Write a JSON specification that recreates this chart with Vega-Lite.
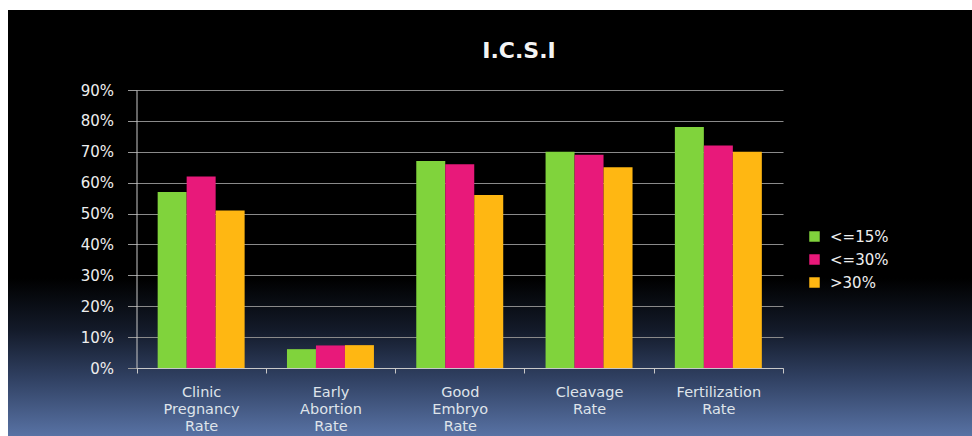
{
  "$schema": "https://vega.github.io/schema/vega-lite/v6.json",
  "width": 964,
  "height": 426,
  "autosize": {"type": "none"},
  "padding": {"left": 8, "top": 10, "right": 0, "bottom": 0},
  "background": "white",
  "title": {
    "text": "I.C.S.I",
    "font": "DejaVu Sans",
    "fontSize": 22,
    "fontWeight": "bold",
    "color": "#f4f4f4",
    "anchor": "middle",
    "baseline": "alphabetic",
    "offset": 0,
    "dx": 29,
    "dy": 70
  },
  "data": {
    "values": [
      {"metric": "Clinic Pregnancy Rate", "group": "<=15%", "value": 0.57},
      {"metric": "Clinic Pregnancy Rate", "group": "<=30%", "value": 0.62},
      {"metric": "Clinic Pregnancy Rate", "group": ">30%", "value": 0.51},
      {"metric": "Early Abortion Rate", "group": "<=15%", "value": 0.061},
      {"metric": "Early Abortion Rate", "group": "<=30%", "value": 0.073},
      {"metric": "Early Abortion Rate", "group": ">30%", "value": 0.074},
      {"metric": "Good Embryo Rate", "group": "<=15%", "value": 0.67},
      {"metric": "Good Embryo Rate", "group": "<=30%", "value": 0.66},
      {"metric": "Good Embryo Rate", "group": ">30%", "value": 0.56},
      {"metric": "Cleavage Rate", "group": "<=15%", "value": 0.70},
      {"metric": "Cleavage Rate", "group": "<=30%", "value": 0.69},
      {"metric": "Cleavage Rate", "group": ">30%", "value": 0.65},
      {"metric": "Fertilization Rate", "group": "<=15%", "value": 0.78},
      {"metric": "Fertilization Rate", "group": "<=30%", "value": 0.72},
      {"metric": "Fertilization Rate", "group": ">30%", "value": 0.70}
    ]
  },
  "mark": {"type": "bar"},
  "encoding": {
    "x": {
      "field": "metric",
      "type": "nominal",
      "sort": ["Clinic Pregnancy Rate", "Early Abortion Rate", "Good Embryo Rate", "Cleavage Rate", "Fertilization Rate"],
      "scale": {"range": [128.5, 775], "paddingInner": 0, "paddingOuter": 0},
      "axis": {
        "title": null,
        "offset": -68,
        "labelAngle": 0,
        "labelExpr": "split(datum.label, ' ')",
        "labelFont": "DejaVu Sans",
        "labelFontSize": 14.5,
        "labelColor": "#dfe4ea",
        "labelLineHeight": 17,
        "labelPadding": 12,
        "labelBaseline": "top",
        "tickBand": "extent",
        "tickSize": 5,
        "tickColor": "#c8c8c8",
        "domainColor": "#c8c8c8",
        "grid": false
      }
    },
    "xOffset": {
      "field": "group",
      "type": "nominal",
      "sort": ["<=15%", "<=30%", ">30%"],
      "scale": {"paddingInner": 0, "paddingOuter": 0.73}
    },
    "y": {
      "field": "value",
      "type": "quantitative",
      "scale": {"domain": [0, 0.9], "range": [358, 80], "nice": false, "zero": true},
      "axis": {
        "title": null,
        "offset": -128.5,
        "values": [0, 0.1, 0.2, 0.3, 0.4, 0.5, 0.6, 0.7, 0.8, 0.9],
        "format": ".0%",
        "labelFont": "DejaVu Sans",
        "labelFontSize": 15,
        "labelColor": "#eeeeee",
        "labelPadding": 14,
        "tickSize": 9,
        "tickColor": "#9a9a9a",
        "domainColor": "#c8c8c8",
        "grid": true,
        "gridColor": "#8a8a8a",
        "gridWidth": 1
      }
    },
    "color": {
      "field": "group",
      "type": "nominal",
      "scale": {"domain": ["<=15%", "<=30%", ">30%"], "range": ["#80d33c", "#e8197a", "#ffb712"]},
      "legend": {
        "title": null,
        "orient": "none",
        "legendX": 799,
        "legendY": 219,
        "symbolType": "square",
        "symbolSize": 110,
        "symbolStrokeWidth": 0,
        "labelFont": "DejaVu Sans",
        "labelFontSize": 15,
        "labelColor": "#eeeeee",
        "rowPadding": 7,
        "labelOffset": 8
      }
    }
  },
  "config": {
    "view": {
      "stroke": null,
      "fill": {
        "gradient": "linear",
        "x1": 0, "y1": 0, "x2": 0, "y2": 1,
        "stops": [
          {"offset": 0, "color": "#000000"},
          {"offset": 0.63, "color": "#000000"},
          {"offset": 0.75, "color": "#131a29"},
          {"offset": 0.86, "color": "#2f3f60"},
          {"offset": 1, "color": "#5872a4"}
        ]
      }
    }
  }
}
